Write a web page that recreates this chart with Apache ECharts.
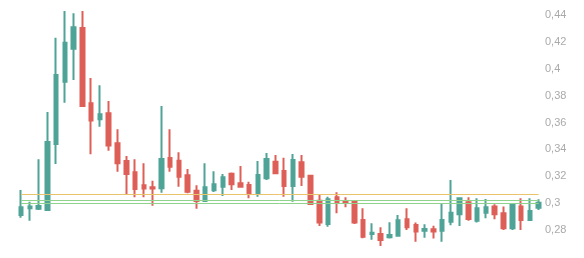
<!DOCTYPE html>
<html><head><meta charset="utf-8">
<script src="https://cdn.jsdelivr.net/npm/echarts@6/dist/echarts.min.js"></script>
<style>html,body{margin:0;padding:0;background:#fff}#c{width:584px;height:258px}</style>
</head><body><div id="c"></div>
<script>
var categories = [];
for (var i = 1; i <= 60; i++) categories.push(String(i));
var opens  = [0.2912,0.2962,0.2959,0.2949,0.3440,0.3904,0.4149,0.4303,0.3743,0.3624,
              0.3669,0.3445,0.3314,0.3230,0.3133,0.3118,0.3110,0.3336,0.3316,0.3207,
              0.3093,0.3016,0.3096,0.3122,0.3219,0.3148,0.3135,0.3070,0.3185,0.3308,
              0.3239,0.3128,0.3304,0.3204,0.3018,0.2845,0.3044,0.3016,0.3011,0.2875,
              0.2771,0.2771,0.2746,0.2758,0.2880,0.2837,0.2795,0.2806,0.2795,0.2862,
              0.2917,0.3006,0.2869,0.2929,0.2974,0.2924,0.2813,0.2974,0.2875,0.2966];
var closes = [0.2969,0.2974,0.2979,0.3455,0.3954,0.4194,0.4308,0.3723,0.3614,0.3661,
              0.3428,0.3297,0.3217,0.3105,0.3108,0.3108,0.3329,0.3271,0.3197,0.3085,
              0.3016,0.3118,0.3140,0.3192,0.3140,0.3122,0.3068,0.3210,0.3329,0.3222,
              0.3128,0.3321,0.3197,0.2994,0.2855,0.3029,0.3003,0.3003,0.2855,0.2750,
              0.2780,0.2726,0.2763,0.2872,0.2820,0.2788,0.2808,0.2788,0.2875,0.2929,
              0.3036,0.2882,0.2962,0.2969,0.2917,0.2813,0.2992,0.2875,0.2942,0.3003];
var lows   = [0.2892,0.2869,0.2949,0.2944,0.3291,0.3747,0.3916,0.3718,0.3364,0.3569,
              0.3390,0.3234,0.3061,0.3044,0.3044,0.2981,0.3078,0.3234,0.3122,0.3073,
              0.2959,0.3011,0.3083,0.3053,0.3098,0.3118,0.3036,0.3048,0.3172,0.3215,
              0.3048,0.3011,0.3128,0.2986,0.2830,0.2825,0.2925,0.2969,0.2845,0.2738,
              0.2728,0.2681,0.2736,0.2750,0.2800,0.2713,0.2743,0.2736,0.2713,0.2835,
              0.2830,0.2869,0.2855,0.2887,0.2880,0.2800,0.2800,0.2800,0.2869,0.2948];
var highs  = [0.3098,0.3011,0.3326,0.3678,0.4231,0.4430,0.4413,0.4430,0.3931,0.3877,
              0.3760,0.3550,0.3351,0.3326,0.3297,0.3167,0.3723,0.3550,0.3378,0.3254,
              0.3133,0.3297,0.3237,0.3217,0.3227,0.3276,0.3160,0.3314,0.3373,0.3358,
              0.3338,0.3366,0.3358,0.3210,0.3061,0.3048,0.3081,0.3044,0.3024,0.2962,
              0.2850,0.2820,0.2858,0.2912,0.2962,0.2855,0.2843,0.2832,0.2994,0.3172,
              0.3040,0.3044,0.3036,0.3031,0.2992,0.2974,0.2999,0.3036,0.3036,0.3029];
var levels = [0.3066, 0.3021, 0.3001];
var levelColors = ['#e9c46a', '#8fd48a', '#8fd48a'];
var yTicks = [0.28, 0.44, 0.02];

var candles = categories.map(function (c, i) { return [opens[i], closes[i], lows[i], highs[i]]; });
var markData = levels.map(function (v, i) {
  return [{ coord: [categories[0], v], lineStyle: { color: levelColors[i] } },
          { coord: [categories[categories.length - 1], v] }];
});

var chart = echarts.init(document.getElementById('c'));
chart.setOption({
  animation: false,
  grid: { left: 16.6, right: 41, top: 15, bottom: 28 },
  xAxis: { type: 'category', data: categories, show: false, boundaryGap: true },
  yAxis: {
    type: 'value', position: 'right', min: yTicks[0], max: yTicks[1], interval: yTicks[2], scale: true,
    axisLine: { show: false }, axisTick: { show: false }, splitLine: { show: false },
    axisLabel: { color: '#aaaaaa', fontSize: 11, fontFamily: 'Liberation Sans, Arial, sans-serif', margin: 2,
      formatter: function (v) { return String(+v.toFixed(2)).replace('.', ','); } }
  },
  series: [{
    type: 'candlestick', data: candles, clip: false, barWidth: 4,
    itemStyle: { color: '#4fa397', color0: '#dd5f57', borderColor: '#4fa397', borderColor0: '#dd5f57', borderWidth: 2 },
    markLine: { silent: true, symbol: 'none', label: { show: false }, lineStyle: { type: 'solid', width: 1 }, data: markData }
  }]
});
</script></body></html>
